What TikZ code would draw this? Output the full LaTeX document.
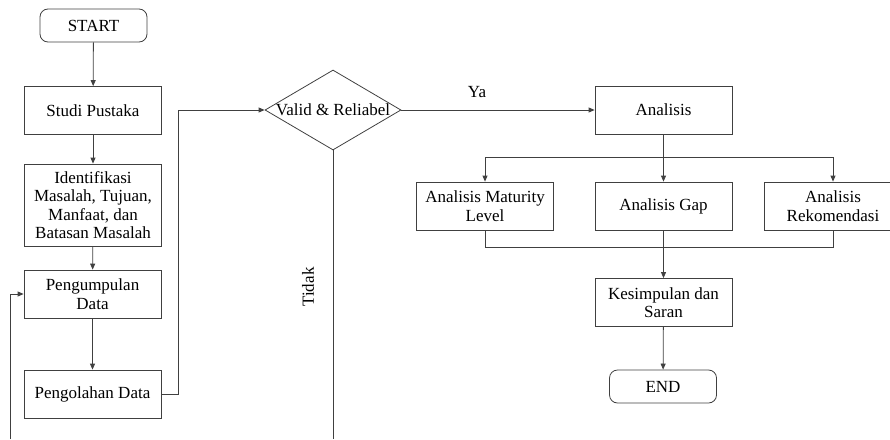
\documentclass[tikz,border=0pt]{standalone}
\usepackage{fontspec}
\setmainfont{Liberation Serif}
\usepackage{tikz}
\usetikzlibrary{shapes.geometric}
\usetikzlibrary{arrows.meta}
\usetikzlibrary{positioning}

\begin{document}
\begin{tikzpicture}[x=1pt, y=-1pt,
        font=\fontsize{17}{18.5}\selectfont,
        line/.style={draw=black!75, line width=0.8pt},
        arrow/.style={line, -{Triangle[length=6pt, width=5pt]}},
        terminal/.style={rectangle, rounded corners=8pt, line, minimum width=107pt, minimum height=33pt, inner sep=0pt},
        process/.style={rectangle, line, minimum width=137pt, minimum height=48pt, inner sep=0pt, align=center},
        decide/.style={diamond, line, minimum width=136pt, minimum height=80pt, inner sep=0pt}
      ]
        \useasboundingbox (0,0) rectangle (890,439);

        \node[terminal]  (start)   at (93.5, 25.5)                         {START};
        \node[process]   (studi)   at (93, 110.5)                          {Studi Pustaka};
        \node[process]   (ident)   at (93, 205)    [minimum height=82pt]   {Identifikasi\\Masalah, Tujuan,\\Manfaat, dan\\Batasan Masalah};
        \node[process]   (kumpul)  at (92.5, 294)                          {Pengumpulan\\Data};
        \node[process]   (olah)    at (92.5, 394)                          {Pengolahan Data};
        \node[decide]    (valid)   at (333, 110)                           {};
        \node[]          (validtx) at (valid.center)                       {Valid \& Reliabel};
        \node[process]   (anls)    at (663.5, 110)                         {Analisis};
        \node[process]   (matur)   at (485, 206)                           {Analisis Maturity\\Level};
        \node[process]   (gap)     at (663.5, 206)                         {Analisis Gap};
        \node[process]   (rekom)   at (833, 206)                           {Analisis\\Rekomendasi};
        \node[process]   (simpul)  at (663.5, 302.5)                       {Kesimpulan dan\\Saran};
        \node[terminal]  (end)     at (663, 386.5)                         {END};

        \coordinate (back)  at (10, 439);
        \coordinate (no)    at (333, 439);
        \coordinate (split) at (663.5, 157);
        \coordinate (join)  at (663.5, 247);

        \draw[arrow]  (start) -- (studi);
        \draw[arrow]  (studi) -- (ident);
        \draw[arrow]  (ident) -- (kumpul);
        \draw[arrow]  (kumpul) -- (olah);
        \draw[arrow]  (olah.east) -- ++(17,0) |- (valid.west);
        \draw[arrow]  (back) |- (kumpul.west);
        \draw[line]   (valid.south) -- (no);
        \node[rotate=90] (tidak) at (308, 287) {Tidak};
        \draw[arrow]  (valid.east) -- (anls.west);
        \node[] (ya) at (477, 92) {Ya};

        \draw[arrow]  (anls) -- (gap);
        \draw[arrow]  (split) -| (matur.north);
        \draw[arrow]  (split) -| (rekom.north);
        \draw[line]   (matur.south) |- (join);
        \draw[line]   (rekom.south) |- (join);
        \draw[arrow]  (gap) -- (simpul);
        \draw[arrow]  (simpul) -- (end);
      \end{tikzpicture}
\end{document}
